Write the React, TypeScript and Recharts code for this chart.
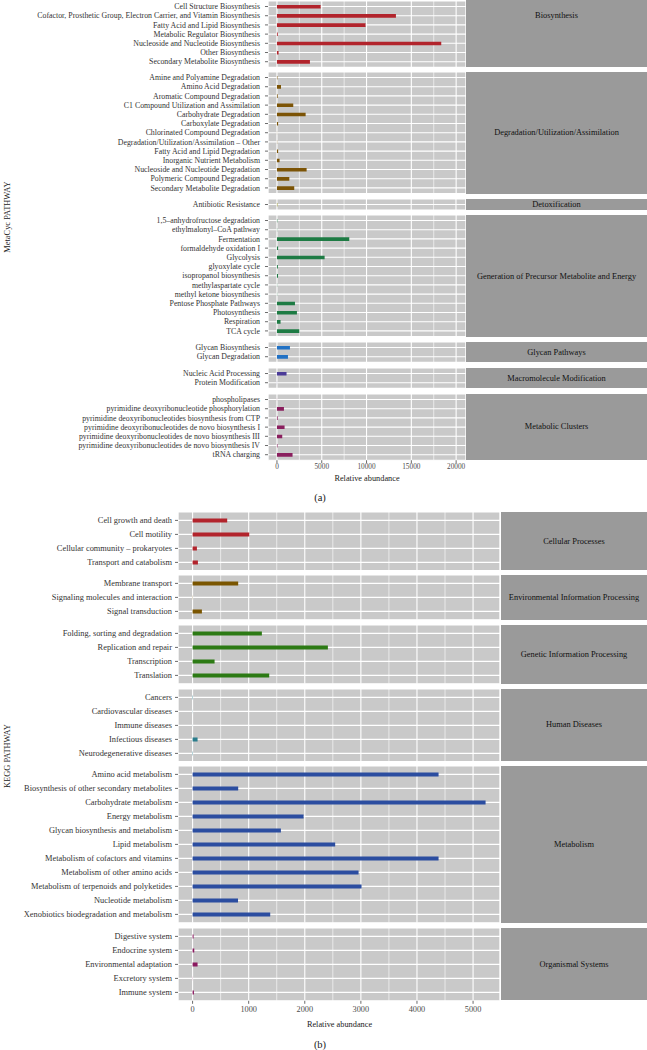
import React from 'react';
import { BarChart, Bar, XAxis, YAxis, CartesianGrid } from 'recharts';

// ---------------- Panel (a): MetaCyc pathways ----------------
const biosynthesisCats = [
  'Cell Structure Biosynthesis',
  'Cofactor, Prosthetic Group, Electron Carrier, and Vitamin Biosynthesis',
  'Fatty Acid and Lipid Biosynthesis',
  'Metabolic Regulator Biosynthesis',
  'Nucleoside and Nucleotide Biosynthesis',
  'Other Biosynthesis',
  'Secondary Metabolite Biosynthesis',
];
const biosynthesisVals = [4880, 13280, 9890, 90, 18340, 180, 3680];

const degradationCats = [
  'Amine and Polyamine Degradation',
  'Amino Acid Degradation',
  'Aromatic Compound Degradation',
  'C1 Compound Utilization and Assimilation',
  'Carbohydrate Degradation',
  'Carboxylate Degradation',
  'Chlorinated Compound Degradation',
  'Degradation/Utilization/Assimilation – Other',
  'Fatty Acid and Lipid Degradation',
  'Inorganic Nutrient Metabolism',
  'Nucleoside and Nucleotide Degradation',
  'Polymeric Compound Degradation',
  'Secondary Metabolite Degradation',
];
const degradationVals = [50, 450, 80, 1820, 3200, 130, 10, 20, 130, 290, 3310, 1380, 1930];

const detoxCats = ['Antibiotic Resistance'];
const detoxVals = [60];

const generationCats = [
  '1,5–anhydrofructose degradation',
  'ethylmalonyl–CoA pathway',
  'Fermentation',
  'formaldehyde oxidation I',
  'Glycolysis',
  'glyoxylate cycle',
  'isopropanol biosynthesis',
  'methylaspartate cycle',
  'methyl ketone biosynthesis',
  'Pentose Phosphate Pathways',
  'Photosynthesis',
  'Respiration',
  'TCA cycle',
];
const generationVals = [40, 20, 8070, 130, 5320, 100, 120, 20, 20, 2010, 2230, 400, 2490];

const glycanCats = ['Glycan Biosynthesis', 'Glycan Degradation'];
const glycanVals = [1450, 1230];

const macroCats = ['Nucleic Acid Processing', 'Protein Modification'];
const macroVals = [1070, 10];

const clusterCats = [
  'phospholipases',
  'pyrimidine deoxyribonucleotide phosphorylation',
  'pyrimidine deoxyribonucleotides biosynthesis from CTP',
  'pyrimidine deoxyribonucleotides de novo biosynthesis I',
  'pyrimidine deoxyribonucleotides de novo biosynthesis III',
  'pyrimidine deoxyribonucleotides de novo biosynthesis IV',
  'tRNA charging',
];
const clusterVals = [10, 780, 80, 850, 590, 60, 1740];

const aStrips = [
  'Biosynthesis',
  'Degradation/Utilization/Assimilation',
  'Detoxification',
  'Generation of Precursor Metabolite and Energy',
  'Glycan Pathways',
  'Macromolecule Modification',
  'Metabolic Clusters',
];
const aMajorTicks = [0, 5000, 10000, 15000, 20000];
const aMinorTicks = [2500, 7500, 12500, 17500];

// ---------------- Panel (b): KEGG pathways ----------------
const cellularCats = ['Cell growth and death', 'Cell motility', 'Cellular community – prokaryotes', 'Transport and catabolism'];
const cellularVals = [617, 1010, 77, 95];

const envCats = ['Membrane transport', 'Signaling molecules and interaction', 'Signal transduction'];
const envVals = [813, 3, 166];

const geneticCats = ['Folding, sorting and degradation', 'Replication and repair', 'Transcription', 'Translation'];
const geneticVals = [1235, 2412, 392, 1366];

const humanCats = ['Cancers', 'Cardiovascular diseases', 'Immune diseases', 'Infectious diseases', 'Neurodegenerative diseases'];
const humanVals = [6, 2, 1, 89, 6];

const metabolismCats = [
  'Amino acid metabolism',
  'Biosynthesis of other secondary metabolites',
  'Carbohydrate metabolism',
  'Energy metabolism',
  'Glycan biosynthesis and metabolism',
  'Lipid metabolism',
  'Metabolism of cofactors and vitamins',
  'Metabolism of other amino acids',
  'Metabolism of terpenoids and polyketides',
  'Nucleotide metabolism',
  'Xenobiotics biodegradation and metabolism',
];
const metabolismVals = [4385, 813, 5223, 1979, 1574, 2542, 4385, 2959, 3012, 810, 1384];

const organismalCats = ['Digestive system', 'Endocrine system', 'Environmental adaptation', 'Excretory system', 'Immune system'];
const organismalVals = [18, 30, 89, 2, 24];

const bStrips = [
  'Cellular Processes',
  'Environmental Information Processing',
  'Genetic Information Processing',
  'Human Diseases',
  'Metabolism',
  'Organismal Systems',
];
const bMajorTicks = [0, 1000, 2000, 3000, 4000, 5000];
const bMinorTicks = [500, 1500, 2500, 3500, 4500];

// ---------------- styles ----------------
const aColors = ['#B2242C', '#7C5406', '#A3A03C', '#1E7B44', '#2171C4', '#4B3B98', '#8A1F5E'];
const bColors = ['#B2242C', '#7A5500', '#2C7A14', '#2A7D8C', '#2B4DA0', '#8B1A60'];

const PANEL_BG = '#C9C9C9';
const STRIP_BG = '#9A9A9A';
const FONT = '"Liberation Serif", "DejaVu Serif", serif';
const PAGE_W = 647;

type PanelCfg = {
  cats: string[][];
  vals: number[][];
  strips: string[];
  colors: string[];
  majors: number[];
  minors: number[];
  domain: [number, number];
  startTop: number;
  rowH: number;
  gap: number;
  plotLeft: number;
  plotRight: number;
  stripLeft: number;
  labelSize: number;
  stripSize: number;
  tickFont: number;
  tickMarginY: number;
  tickMarginX: number;
  barSize: number;
  axisH: number;
  firstStripExtend: number;
};

function makeYTick(size: number) {
  return (p: any) => (
    <text
      x={p.x}
      y={p.y}
      dy="0.35em"
      textAnchor="end"
      fontSize={size}
      fill="#333333"
      fontFamily={FONT}
    >
      {p.payload.value}
    </text>
  );
}

function Facet(props: {
  cats: string[];
  vals: number[];
  color: string;
  cfg: PanelCfg;
  top: number;
  showAxis: boolean;
}) {
  const { cats, vals, color, cfg, top, showAxis } = props;
  const data = cats.map((name, i) => ({ name, value: vals[i] }));
  const panelH = (cats.length + 0.2) * cfg.rowH;
  const h = panelH + (showAxis ? cfg.axisH : 0);
  const pad = 0.1 * cfg.rowH;
  return (
    <div style={{ position: 'absolute', left: 0, top }}>
      <BarChart
        width={cfg.plotRight}
        height={h}
        data={data}
        layout="vertical"
        margin={{ top: 0, right: 0, bottom: 0, left: 0 }}
        barSize={cfg.barSize}
      >
        <CartesianGrid
          xAxisId="minor"
          yAxisId="y"
          fill={PANEL_BG}
          fillOpacity={1}
          stroke="#FFFFFF"
          strokeWidth={0.6}
          horizontal={false}
        />
        <CartesianGrid xAxisId="major" yAxisId="y" stroke="#FFFFFF" strokeWidth={1.1} />
        <XAxis
          xAxisId="minor"
          type="number"
          domain={cfg.domain}
          ticks={cfg.minors}
          allowDataOverflow
          hide
        />
        <XAxis
          xAxisId="major"
          type="number"
          domain={cfg.domain}
          ticks={cfg.majors}
          allowDataOverflow
          hide={!showAxis}
          height={cfg.axisH}
          interval={0}
          axisLine={false}
          tickLine={{ stroke: '#444', strokeWidth: 0.8 }}
          tickSize={3}
          tickMargin={cfg.tickMarginX}
          tick={{ fontSize: cfg.tickFont, fill: '#4D4D4D', fontFamily: FONT }}
        />
        <YAxis
          yAxisId="y"
          type="category"
          dataKey="name"
          width={cfg.plotLeft}
          interval={0}
          padding={{ top: pad, bottom: pad }}
          axisLine={false}
          tickLine={{ stroke: '#444', strokeWidth: 0.8 }}
          tickSize={3}
          tickMargin={cfg.tickMarginY}
          tick={makeYTick(cfg.labelSize)}
        />
        <Bar xAxisId="major" yAxisId="y" dataKey="value" fill={color} isAnimationActive={false} />
      </BarChart>
    </div>
  );
}

function Panel({ cfg }: { cfg: PanelCfg }) {
  const items: React.ReactNode[] = [];
  let top = cfg.startTop;
  cfg.cats.forEach((cats, i) => {
    const panelH = (cats.length + 0.2) * cfg.rowH;
    const last = i === cfg.cats.length - 1;
    items.push(
      <Facet key={'f' + i} cats={cats} vals={cfg.vals[i]} color={cfg.colors[i]} cfg={cfg} top={top} showAxis={last} />
    );
    const ext = i === 0 ? cfg.firstStripExtend : 0;
    items.push(
      <div
        key={'s' + i}
        style={{
          position: 'absolute',
          left: cfg.stripLeft,
          top: top - ext,
          width: PAGE_W - cfg.stripLeft,
          height: panelH + ext,
          background: STRIP_BG,
          display: 'flex',
          alignItems: 'center',
          justifyContent: 'center',
          fontSize: cfg.stripSize,
          color: '#111111',
          fontFamily: FONT,
          whiteSpace: 'nowrap',
        }}
      >
        {cfg.strips[i]}
      </div>
    );
    top += panelH + cfg.gap;
  });
  return <>{items}</>;
}

const cfgA: PanelCfg = {
  cats: [biosynthesisCats, degradationCats, detoxCats, generationCats, glycanCats, macroCats, clusterCats],
  vals: [biosynthesisVals, degradationVals, detoxVals, generationVals, glycanVals, macroVals, clusterVals],
  strips: aStrips,
  colors: aColors,
  majors: aMajorTicks,
  minors: aMinorTicks,
  domain: [-1000, 21100],
  startTop: 0.5,
  rowH: 9.2,
  gap: 5.4,
  plotLeft: 268,
  plotRight: 466,
  stripLeft: 466,
  labelSize: 7.85,
  stripSize: 8.4,
  tickFont: 7.3,
  tickMarginY: 5,
  tickMarginX: 1,
  barSize: 3.6,
  axisH: 12,
  firstStripExtend: 37,
};

const cfgB: PanelCfg = {
  cats: [cellularCats, envCats, geneticCats, humanCats, metabolismCats, organismalCats],
  vals: [cellularVals, envVals, geneticVals, humanVals, metabolismVals, organismalVals],
  strips: bStrips,
  colors: bColors,
  majors: bMajorTicks,
  minors: bMinorTicks,
  domain: [-260, 5480],
  startTop: 511.7,
  rowH: 14,
  gap: 4.8,
  plotLeft: 178,
  plotRight: 500,
  stripLeft: 501,
  labelSize: 8.4,
  stripSize: 8.4,
  tickFont: 8.3,
  tickMarginY: 3,
  tickMarginX: 2.5,
  barSize: 4.2,
  axisH: 14,
  firstStripExtend: 0,
};

function CenterText(props: { x: number; y: number; size: number; text: string; rotate?: boolean }) {
  const { x, y, size, text, rotate } = props;
  return (
    <div
      style={{
        position: 'absolute',
        left: x,
        top: y,
        transform: `translate(-50%, -50%)${rotate ? ' rotate(-90deg)' : ''}`,
        fontSize: size,
        lineHeight: 1,
        whiteSpace: 'nowrap',
        color: '#1A1A1A',
        fontFamily: FONT,
      }}
    >
      {text}
    </div>
  );
}

export default function App() {
  return (
    <div
      style={{
        position: 'absolute',
        left: 0,
        top: 0,
        width: PAGE_W,
        height: 1050,
        overflow: 'hidden',
        background: '#FFFFFF',
        fontFamily: FONT,
      }}
    >
      <Panel cfg={cfgA} />
      <Panel cfg={cfgB} />
      <CenterText x={367} y={479} size={8.3} text="Relative abundance" />
      <CenterText x={339.5} y={1025} size={8.3} text="Relative abundance" />
      <CenterText x={7.5} y={217} size={8.4} text="MetaCyc PATHWAY" rotate />
      <CenterText x={7.5} y={756} size={8.4} text="KEGG PATHWAY" rotate />
      <CenterText x={320} y={498} size={10.5} text="(a)" />
      <CenterText x={320} y={1045} size={10.5} text="(b)" />
    </div>
  );
}
